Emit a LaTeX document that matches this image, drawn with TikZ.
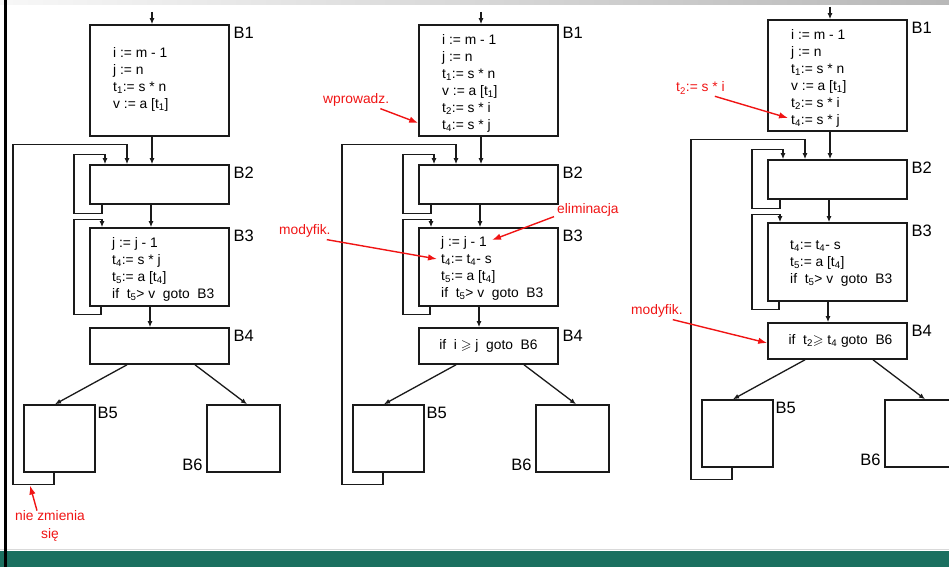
\documentclass[tikz,border=0pt]{standalone}
\usepackage{fontspec}
\setmainfont{Liberation Sans}
\usepackage{amssymb}
\usetikzlibrary{arrows.meta}
\definecolor{slidegreen}{HTML}{1B7060}
\definecolor{ink}{HTML}{1A1A1A}
\definecolor{annot}{HTML}{F01414}
\newcommand{\sbs}[1]{\textsubscript{#1}}
\tikzset{
  blk/.style={draw=ink, line width=1.6pt, inner sep=0pt},
  flow/.style={draw=ink, line width=1.3pt, -{Latex[length=6pt,width=5pt]}},
  blabel/.style={inner sep=0pt, font=\fontsize{16.5}{18}\selectfont},
  code/.style={inner sep=0pt, align=left, font=\fontsize{13.8}{17}\selectfont},
  note/.style={inner sep=0pt, text=annot, align=center, font=\fontsize{13.8}{17.5}\selectfont},
  notearrow/.style={draw=annot, line width=1.4pt, -{Latex[length=9pt,width=6.5pt]}},
}
\newcommand{\cfgskel}[3]{%
\begin{scope}[shift={(#2,#3)}]
  \node[blk, minimum width=139pt, minimum height=111pt] (#1b1) at (159.5,80.5) {};
  \node[blk, minimum width=139pt, minimum height=39pt] (#1b2) at (159.5,184.5) {};
  \node[blk, minimum width=139pt, minimum height=78pt] (#1b3) at (159.5,267) {};
  \node[blk, minimum width=139pt, minimum height=36pt] (#1b4) at (159.5,346) {};
  \node[blk, minimum width=71pt, minimum height=67pt] (#1b5) at (59.5,438.5) {};
  \node[blk, minimum width=73pt, minimum height=67pt] (#1b6) at (243.5,438.5) {};
  \coordinate (#1in) at (152,12);
  \draw[flow] (#1in) -- ([xshift=-7.5pt]#1b1.north);
  \draw[flow] ([xshift=-7.5pt]#1b1.south) -- ([xshift=-7.5pt]#1b2.north);
  \draw[flow] ([xshift=-8.5pt]#1b2.south) -- ([xshift=-8.5pt]#1b3.north);
  \draw[flow] ([xshift=-9.5pt]#1b3.south) -- ([xshift=-9.5pt]#1b4.north);
  \draw[flow] ([xshift=-32.5pt]#1b4.south) -- ([xshift=-4.5pt]#1b5.north);
  \draw[flow] ([xshift=35.5pt]#1b4.south) -- ([xshift=3.5pt]#1b6.north);
  \draw[flow] ([xshift=-57.5pt]#1b2.south) -- ++(0,9) -- ++(-28,0) -- ++(0,-59) -- ++(31,0) -- ([xshift=-54.5pt]#1b2.north);
  \draw[flow] ([xshift=-58.5pt]#1b3.south) -- ++(0,8) -- ++(-27,0) -- ++(0,-95) -- ++(28,0) -- ([xshift=-57.5pt]#1b3.north);
  \draw[flow] ([xshift=-5.5pt]#1b5.south) -- ++(0,12) -- ++(-41,0) -- ++(0,-340) -- ++(114,0) -- ([xshift=-32.5pt]#1b2.north);
  \node[blabel, anchor=north west] (#1l1) at ([xshift=3.5pt,yshift=-3pt]#1b1.north east) {B1};
  \node[blabel, anchor=north west] (#1l2) at ([xshift=3.5pt,yshift=-3pt]#1b2.north east) {B2};
  \node[blabel, anchor=north west] (#1l3) at ([xshift=3.5pt,yshift=-3pt]#1b3.north east) {B3};
  \node[blabel, anchor=north west] (#1l4) at ([xshift=3.5pt,yshift=-3pt]#1b4.north east) {B4};
  \node[blabel, anchor=north west] (#1l5) at ([xshift=1.5pt,yshift=-3pt]#1b5.north east) {B5};
  \node[blabel, anchor=south east] (#1l6) at ([xshift=-3.5pt,yshift=2pt]#1b6.south west) {B6};
\end{scope}}
\begin{document}
\begin{tikzpicture}[x=1pt, y=-1pt]
\useasboundingbox (0,0) rectangle (949,567);
% slide decoration
\shade[left color=black!3, right color=black!28] (0,0) rectangle (949,5);
\fill[slidegreen] (0,551) rectangle (949,567);
\draw[black!15, line width=1pt] (0,549.5) -- (949,549.5);
\fill[black] (4,0) rectangle (6.5,567);

% three flow graphs
\cfgskel{L}{0}{0}
\cfgskel{M}{329}{0}
\cfgskel{R}{678}{-5}

% left texts
\node[code, anchor=north west] (Lt1) at (113,47) {i := m - 1\\ j := n\\ t\sbs{1}:= s * n\\ v := a [t\sbs{1}]};
\node[code, anchor=north west] (Lt3) at (112,237) {j := j - 1\\ t\sbs{4}:= s * j\\ t\sbs{5}:= a [t\sbs{4}]\\ if~~t\sbs{5}> v~~goto~~B3};
\node[note] (Lnz) at (50,526) {nie zmienia\\ się};
\coordinate (Lnzt) at (30,485.5);
\draw[notearrow] ([xshift=-13pt]Lnz.north) -- (Lnzt);

% middle texts
\node[code, anchor=north west] (Mt1) at (442,34.5) {i := m - 1\\ j := n\\ t\sbs{1}:= s * n\\ v := a [t\sbs{1}]\\ t\sbs{2}:= s * i\\ t\sbs{4}:= s * j};
\node[code, anchor=north west] (Mt3) at (441,236) {j := j - 1\\ t\sbs{4}:=~t\sbs{4}- s\\ t\sbs{5}:= a [t\sbs{4}]\\ if~~t\sbs{5}> v~~goto~~B3};
\node[code] (Mt4) at (Mb4.center) {if~~i $\geqslant$ j~~goto~~B6};
\node[note, anchor=west] (Mwp) at (323,100) {wprowadz.};
\draw[notearrow] ([xshift=-9pt,yshift=-2pt]Mwp.south east) -- ([yshift=-42.5pt]Mb1.west);
\node[note, anchor=west] (Mel) at (557,210) {eliminacja};
\coordinate (Melt) at (492,240);
\draw[notearrow] ([xshift=-3pt]Mel.south west) -- (Melt);
\node[note, anchor=west] (Mmo) at (279,231) {modyfik.};
\coordinate (Mmot) at (437,259);
\draw[notearrow] ([xshift=-4pt,yshift=-2pt]Mmo.south east) -- (Mmot);

% right texts
\node[code, anchor=north west] (Rt1) at (791,29.5) {i := m - 1\\ j := n\\ t\sbs{1}:= s * n\\ v := a [t\sbs{1}]\\ t\sbs{2}:= s * i\\ t\sbs{4}:= s * j};
\node[code, anchor=north west] (Rt3) at (790,240) {t\sbs{4}:=~t\sbs{4}- s\\ t\sbs{5}:= a [t\sbs{4}]\\ if~~t\sbs{5}> v~~goto~~B3};
\node[code] (Rt4) at ([xshift=3pt]Rb4.center) {if~~t\sbs{2}$\geqslant$ t\sbs{4} goto~~B6};
\node[note, anchor=west] (Rt2) at (676,88) {t\sbs{2}:= s * i};
\coordinate (Rt2t) at (788,118);
\draw[notearrow] ([xshift=-10pt,yshift=-2pt]Rt2.south east) -- (Rt2t);
\node[note, anchor=west] (Rmo) at (631,311) {modyfik.};
\draw[notearrow] ([xshift=-10pt,yshift=-2pt]Rmo.south east) -- ([yshift=-2pt]Rb4.west);
\end{tikzpicture}
\end{document}
